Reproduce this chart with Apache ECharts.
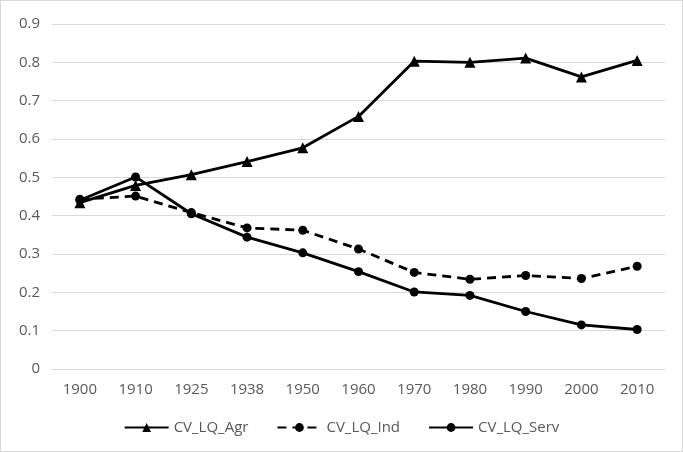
<!DOCTYPE html>
<html>
<head>
<meta charset="utf-8">
<script src="https://cdn.jsdelivr.net/npm/echarts@6/dist/echarts.min.js"></script>
<style>
html, body { margin: 0; padding: 0; background: #fff; }
#container { width: 681px; height: 450px; border: 1px solid #d9d9d9; }
</style>
</head>
<body>
<div id="container"></div>
<script>
var years = ['1900', '1910', '1925', '1938', '1950', '1960', '1970', '1980', '1990', '2000', '2010'];
var cvAgr = [0.434, 0.479, 0.507, 0.541, 0.577, 0.659, 0.803, 0.800, 0.811, 0.762, 0.805];
var cvInd = [0.443, 0.451, 0.408, 0.368, 0.362, 0.313, 0.252, 0.234, 0.244, 0.236, 0.268];
var cvServ = [0.440, 0.501, 0.405, 0.344, 0.303, 0.254, 0.201, 0.192, 0.150, 0.115, 0.103];

var dom = document.getElementById("container");
var myChart = echarts.init(dom);

var font = '"Open Sans", "Noto Sans", sans-serif';

var option = {
    animation: false,
    textStyle: { fontFamily: font },
    grid: { left: 51, right: 17, top: 23, bottom: 82, containLabel: false },
    legend: {
        bottom: 11,
        itemWidth: 44,
        itemHeight: 11,
        itemGap: 28,
        textStyle: { color: '#595959', fontSize: 15, fontFamily: font },
        data: ['CV_LQ_Agr', 'CV_LQ_Ind', 'CV_LQ_Serv']
    },
    xAxis: {
        type: 'category',
        data: years,
        boundaryGap: true,
        axisLine: { lineStyle: { color: '#d9d9d9' } },
        axisTick: { show: false },
        axisLabel: { color: '#595959', fontSize: 15, margin: 13, fontFamily: font }
    },
    yAxis: {
        type: 'value',
        min: 0,
        max: 0.9,
        interval: 0.1,
        axisLine: { show: false },
        axisTick: { show: false },
        axisLabel: { color: '#595959', fontSize: 15, margin: 12, fontFamily: font,
            formatter: function (v) { return Math.round(v * 10) / 10 + ''; } },
        splitLine: { lineStyle: { color: '#d9d9d9' } }
    },
    series: [
        {
            name: 'CV_LQ_Agr',
            type: 'line',
            data: cvAgr,
            symbol: 'triangle',
            symbolSize: 11,
            itemStyle: { color: '#000' },
            lineStyle: { color: '#000', width: 2.8 }
        },
        {
            name: 'CV_LQ_Ind',
            type: 'line',
            data: cvInd,
            symbol: 'circle',
            symbolSize: 9,
            itemStyle: { color: '#000' },
            lineStyle: { color: '#000', width: 2.8, type: [9, 6] }
        },
        {
            name: 'CV_LQ_Serv',
            type: 'line',
            data: cvServ,
            symbol: 'circle',
            symbolSize: 9,
            itemStyle: { color: '#000' },
            lineStyle: { color: '#000', width: 2.8 }
        }
    ]
};

myChart.setOption(option, true);
window.onresize = function () {
    myChart.resize();
};
</script>
</body>
</html>
